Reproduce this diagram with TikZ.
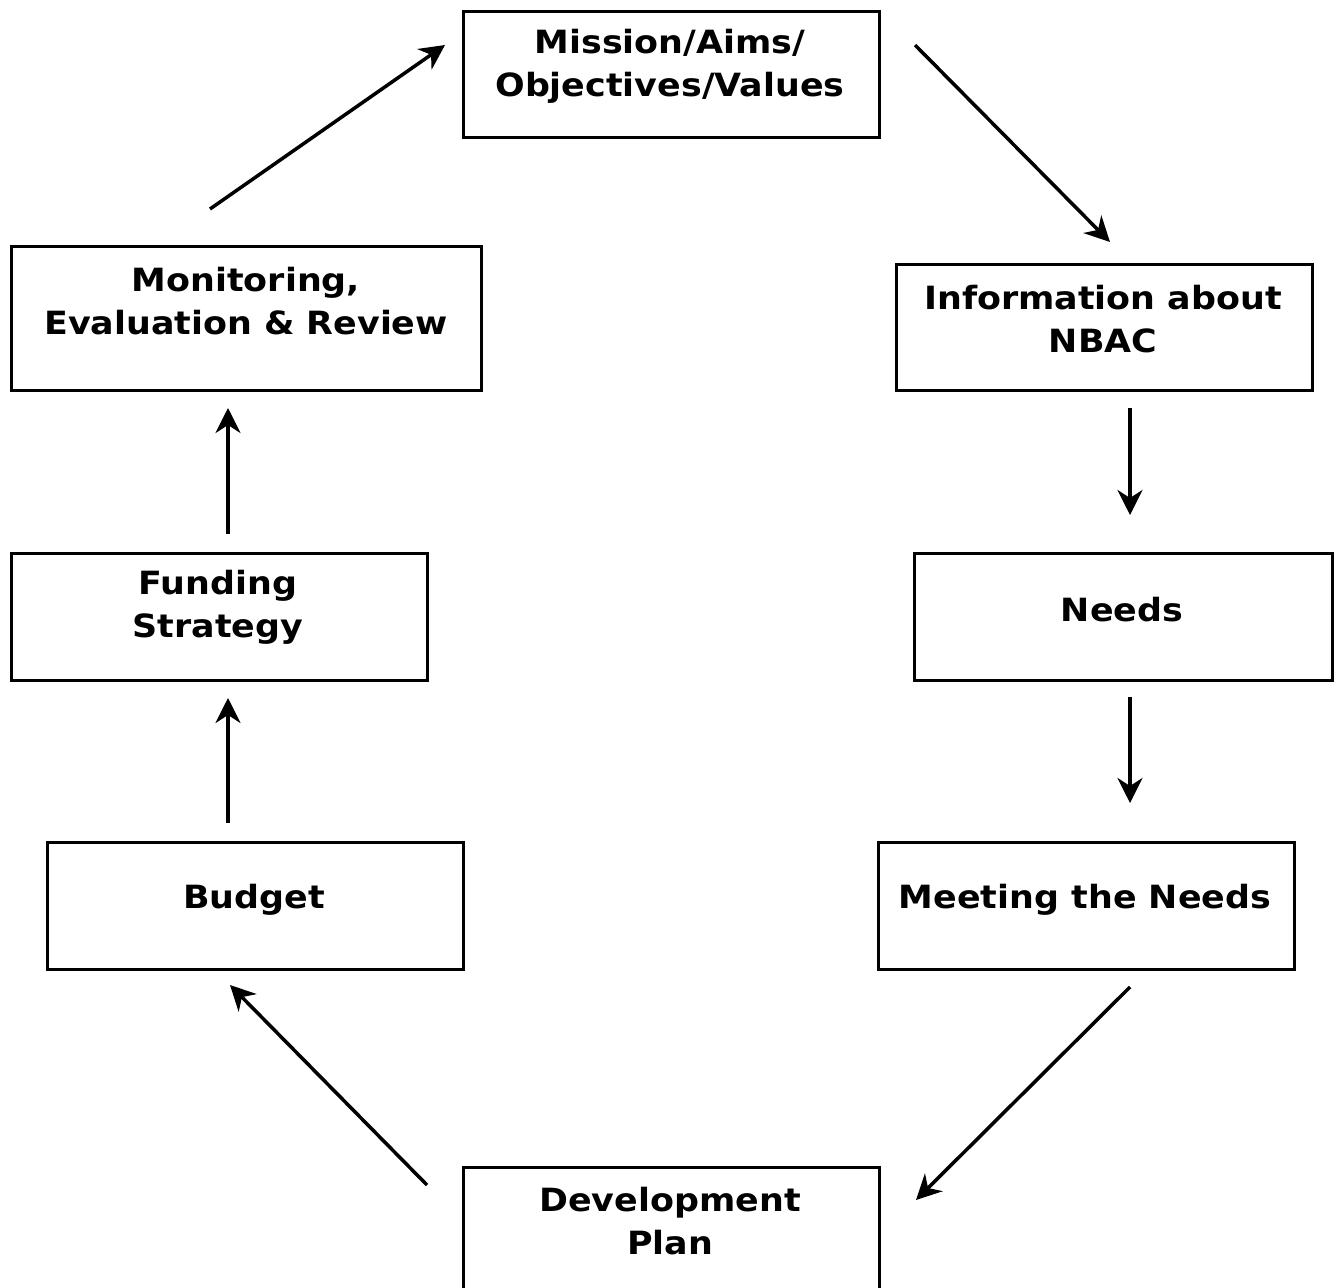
\documentclass[tikz,border=0pt]{standalone}
\usepackage{fontspec}
\setmainfont{DejaVu Sans}[FakeStretch=1.09]
\usetikzlibrary{arrows.meta}
\begin{document}
\begin{tikzpicture}[x=1pt,y=-1pt,
  box/.style={draw=black, line width=3pt, anchor=north west, inner sep=0pt},
  lbl/.style={align=center, font=\fontsize{32}{43}\selectfont\bfseries, inner sep=0pt},
  conn/.style={line width=3.5pt, -{Stealth[length=25pt,width=25pt,inset=8pt]}}]
\useasboundingbox (0,0) rectangle (1335,1287);
\clip (0,0) rectangle (1335,1287);
% boxes
\node[box, minimum width=416pt, minimum height=126pt] (mis) at (462,10) {};
\node[box, minimum width=416pt, minimum height=126pt] (inf) at (895,263) {};
\node[box, minimum width=418pt, minimum height=127pt] (nee) at (913,552) {};
\node[box, minimum width=416pt, minimum height=127pt] (mee) at (877,841) {};
\node[box, minimum width=416pt, minimum height=140pt] (dev) at (462,1166) {};
\node[box, minimum width=416pt, minimum height=127pt] (bud) at (46,841) {};
\node[box, minimum width=416pt, minimum height=127pt] (fun) at (10,552) {};
\node[box, minimum width=470pt, minimum height=144pt] (mon) at (10,245) {};
% labels
\node[lbl] (tmis) at (670,66) {Mission/Aims/\\Objectives/Values};
\node[lbl] (tinf) at (1103,319) {Information about\\NBAC};
\node[lbl] (tnee) at (1122,610) {Needs};
\node[lbl] (tmee) at (1085,900) {Meeting the Needs};
\node[lbl] (tdev) at (670,1221) {Development\\Plan};
\node[lbl] (tbud) at (254,900) {Budget};
\node[lbl] (tfun) at (218,607) {Funding\\Strategy};
\node[lbl] (tmon) at (246,301) {Monitoring,\\Evaluation \& Review};
% connector ends
\coordinate (a1s) at (210,209); \coordinate (a1e) at (445,45);
\coordinate (a2s) at (915,45);  \coordinate (a2e) at (1110,242);
\coordinate (a3s) at (1130,408); \coordinate (a3e) at (1130,515);
\coordinate (a4s) at (1130,697); \coordinate (a4e) at (1130,803);
\coordinate (a5s) at (1130,987); \coordinate (a5e) at (916,1200);
\coordinate (a6s) at (427,1185); \coordinate (a6e) at (230,985);
\coordinate (a7s) at (228,823); \coordinate (a7e) at (228,698);
\coordinate (a8s) at (228,534); \coordinate (a8e) at (228,408);
\draw[conn] (a1s) -- (a1e);
\draw[conn] (a2s) -- (a2e);
\draw[conn] (a3s) -- (a3e);
\draw[conn] (a4s) -- (a4e);
\draw[conn] (a5s) -- (a5e);
\draw[conn] (a6s) -- (a6e);
\draw[conn] (a7s) -- (a7e);
\draw[conn] (a8s) -- (a8e);
\end{tikzpicture}
\end{document}
